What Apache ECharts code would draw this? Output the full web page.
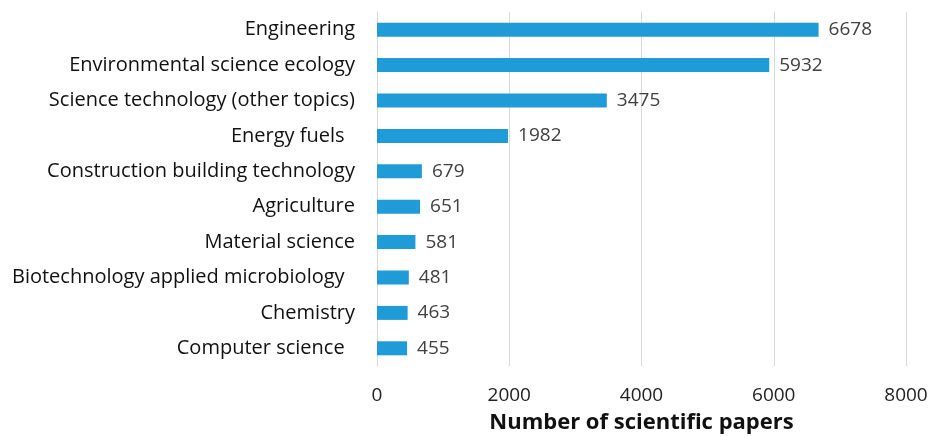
<!DOCTYPE html>
<html><head><meta charset="utf-8">
<script src="https://cdn.jsdelivr.net/npm/echarts@6/dist/echarts.min.js"></script>
<style>html,body{margin:0;padding:0;background:#fff}#c{width:929px;height:437px}</style>
</head><body><div id="c"></div>
<script>
const categories = ["Engineering","Environmental science ecology","Science technology (other topics)","Energy fuels  ","Construction building technology","Agriculture","Material science","Biotechnology applied microbiology  ","Chemistry","Computer science  "];
const values = [6678,5932,3475,1982,679,651,581,481,463,455];
const xTicks = [0,2000,4000,6000,8000];
const xTitle = "Number of scientific papers";

const chart = echarts.init(document.getElementById('c'));
const font = "'Open Sans', 'Noto Sans', sans-serif";
chart.setOption({
  animation:false,
  grid:{left:377,right:23,top:12,bottom:71,containLabel:false,outerBoundsMode:'none'},
  xAxis:{type:'value',min:xTicks[0],max:xTicks[xTicks.length-1],interval:2000,
    name:xTitle,nameLocation:'middle',nameGap:46,
    nameTextStyle:{fontFamily:font,fontSize:22,fontWeight:'bold',color:'#111'},
    axisLine:{show:false},axisTick:{show:false},
    axisLabel:{fontFamily:font,fontSize:19,color:'#222',margin:20,formatter:v=>String(v)},
    splitLine:{lineStyle:{color:'#d9d9d9',width:1}}},
  yAxis:{type:'category',data:categories,inverse:true,
    axisLine:{show:true,lineStyle:{color:'#d9d9d9'}},axisTick:{show:false},
    axisLabel:{fontFamily:font,fontSize:20,color:'#111',margin:22}},
  series:[{type:'bar',data:values,barWidth:14,itemStyle:{color:'#1f9bd7'},
    label:{show:true,position:'right',distance:10,fontFamily:font,fontSize:19,color:'#404040'}}]
});
</script></body></html>
